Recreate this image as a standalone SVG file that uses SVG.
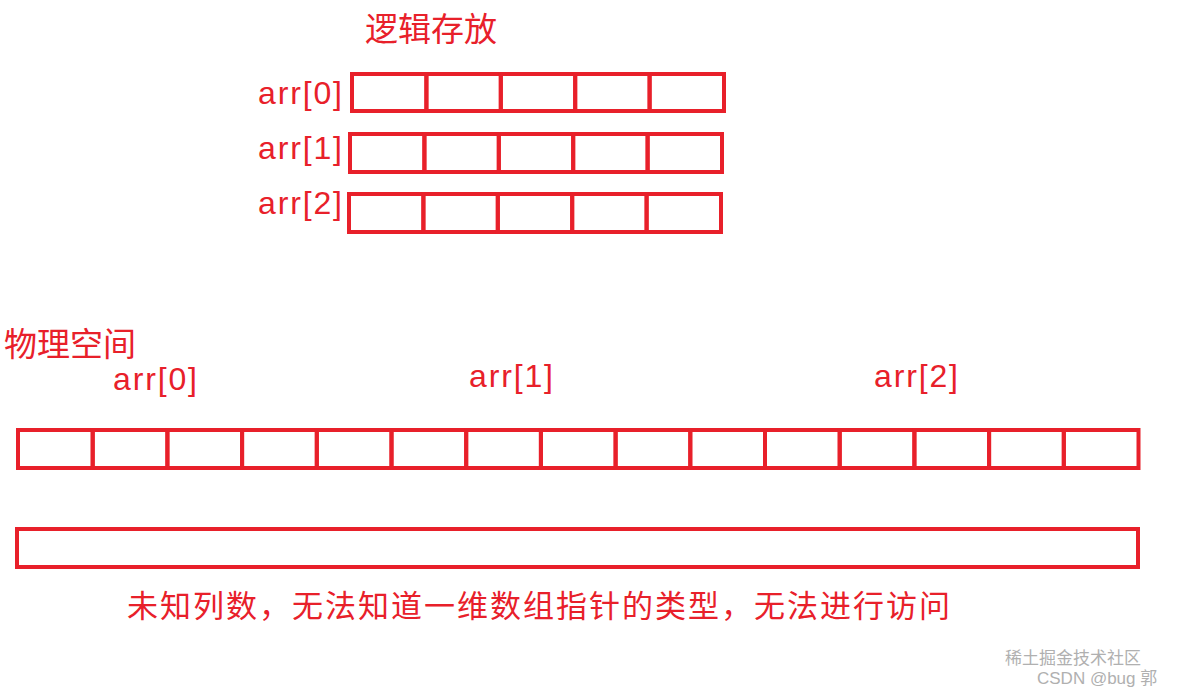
<svg xmlns="http://www.w3.org/2000/svg" width="1182" height="694" viewBox="0 0 1182 694">
<style>
.c{fill:none;stroke:#e8202a;stroke-width:4}
.t{fill:#e8202a;font-family:"Liberation Sans","Noto Sans CJK SC",sans-serif}
.w{fill:#b0b0b0;font-family:"Liberation Sans","Noto Sans CJK SC",sans-serif;font-size:17px}
</style>
<rect width="1182" height="694" fill="#fff"/>
<text class="t" x="365" y="41" font-size="33">逻辑存放</text>
<g id="row0">
<text class="t" x="258" y="104" font-size="32" textLength="84">arr[0]</text>
<rect class="c" x="352" y="74" width="74.4" height="37"/><rect class="c" x="426.4" y="74" width="74.4" height="37"/><rect class="c" x="500.8" y="74" width="74.4" height="37"/><rect class="c" x="575.2" y="74" width="74.4" height="37"/><rect class="c" x="649.6" y="74" width="74.4" height="37"/>
</g>
<g id="row1">
<text class="t" x="258" y="159" font-size="32" textLength="84">arr[1]</text>
<rect class="c" x="350" y="134" width="74.4" height="38"/><rect class="c" x="424.4" y="134" width="74.4" height="38"/><rect class="c" x="498.8" y="134" width="74.4" height="38"/><rect class="c" x="573.2" y="134" width="74.4" height="38"/><rect class="c" x="647.6" y="134" width="74.4" height="38"/>
</g>
<g id="row2">
<text class="t" x="258" y="214" font-size="32" textLength="84">arr[2]</text>
<rect class="c" x="349" y="194" width="74.4" height="38"/><rect class="c" x="423.4" y="194" width="74.4" height="38"/><rect class="c" x="497.8" y="194" width="74.4" height="38"/><rect class="c" x="572.2" y="194" width="74.4" height="38"/><rect class="c" x="646.6" y="194" width="74.4" height="38"/>
</g>
<text class="t" x="4" y="356" font-size="33">物理空间</text>
<text class="t" x="113" y="390" font-size="32" textLength="84">arr[0]</text>
<text class="t" x="469" y="387" font-size="32" textLength="84">arr[1]</text>
<text class="t" x="874" y="387" font-size="32" textLength="84">arr[2]</text>
<g id="memory">
<rect class="c" x="18" y="430" width="74.7" height="38"/><rect class="c" x="92.7" y="430" width="74.7" height="38"/><rect class="c" x="167.4" y="430" width="74.7" height="38"/><rect class="c" x="242.1" y="430" width="74.7" height="38"/><rect class="c" x="316.8" y="430" width="74.7" height="38"/><rect class="c" x="391.5" y="430" width="74.7" height="38"/><rect class="c" x="466.2" y="430" width="74.7" height="38"/><rect class="c" x="540.9" y="430" width="74.7" height="38"/><rect class="c" x="615.6" y="430" width="74.7" height="38"/><rect class="c" x="690.3" y="430" width="74.7" height="38"/><rect class="c" x="765" y="430" width="74.7" height="38"/><rect class="c" x="839.7" y="430" width="74.7" height="38"/><rect class="c" x="914.4" y="430" width="74.7" height="38"/><rect class="c" x="989.1" y="430" width="74.7" height="38"/><rect class="c" x="1063.8" y="430" width="74.7" height="38"/>
</g>
<g id="unknown">
<rect class="c" x="17" y="529" width="1121" height="38"/>
</g>
<text class="t" x="127" y="617" font-size="31" textLength="823">未知列数，无法知道一维数组指针的类型，无法进行访问</text>
<text class="w" x="1005" y="664">稀土掘金技术社区</text>
<text class="w" x="1037" y="684">CSDN @bug 郭</text>
</svg>
